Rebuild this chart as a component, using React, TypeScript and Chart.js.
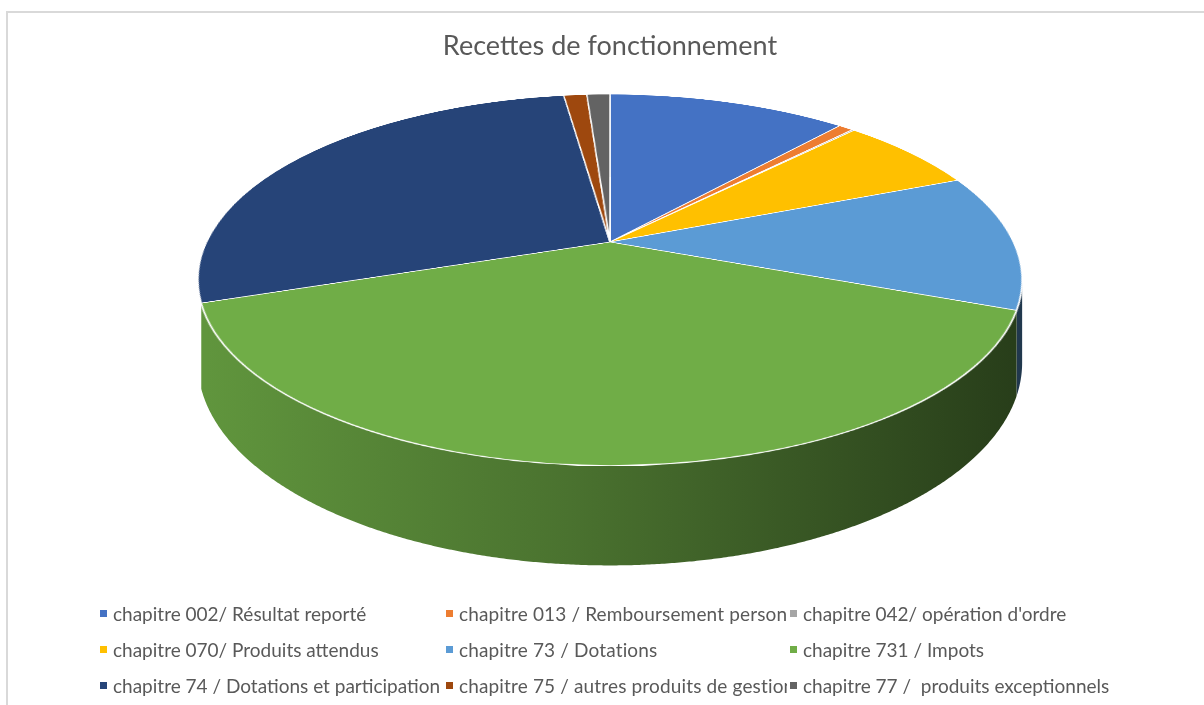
import React, { useEffect, useRef } from 'react';
import { Chart, registerables } from 'chart.js';

Chart.register(...registerables);

const TITLE = 'Recettes de fonctionnement';

const CATEGORIES = [
  'chapitre 002/ Résultat reporté',
  'chapitre 013 / Remboursement personnel',
  "chapitre 042/ opération d'ordre",
  'chapitre 070/ Produits attendus',
  'chapitre 73 / Dotations',
  'chapitre 731 / Impots',
  'chapitre 74 / Dotations et participations',
  'chapitre 75 / autres produits de gestion courante',
  'chapitre 77 /  produits exceptionnels',
];

const VALUES = [11.4, 0.7, 0.1, 6.7, 11.9, 39.0, 28.0, 1.1, 1.1];

const COLORS = [
  '#4472C4',
  '#ED7D31',
  '#A5A5A5',
  '#FFC000',
  '#5B9BD5',
  '#70AD47',
  '#264478',
  '#9E480E',
  '#636363',
];

// 3D projection parameters (multiples of the Chart.js arc outer radius)
const RX = 2.695;
const RY = 1.188;
const PERSP = -0.2043;
const DEPTH = 0.531;
const R_OFF = 420;
const SIDE_RIGHT = 0.2058; // first visible wall angle (rad, canvas convention)
const SIDE_LEFT = Math.PI - 0.33; // last visible wall angle

function shade(hex: string, f: number) {
  const n = parseInt(hex.slice(1), 16);
  const r = Math.round(((n >> 16) & 255) * f);
  const g = Math.round(((n >> 8) & 255) * f);
  const b = Math.round((n & 255) * f);
  return `rgb(${r},${g},${b})`;
}

const pie3d = {
  id: 'pie3d',
  beforeDatasetDraw(chart: any, args: any) {
    const arcs = args.meta.data as any[];
    if (!arcs.length) return;
    const { x: ax, y: ay, outerRadius: R } = arcs[0].getProps(['x', 'y', 'outerRadius'], true);
    const ctx: CanvasRenderingContext2D = chart.ctx;
    const K = RX * R;
    const B = RY * R;
    const D = DEPTH * R;
    const P = PERSP;
    const proj = (ang: number) => {
      const u = Math.cos(ang);
      const v = Math.sin(ang);
      const w = 1 + P * v;
      return { x: ax + (K * u) / w, y: ay + (B * v) / w, d: D / w };
    };

    // side walls
    ctx.save();
    arcs.forEach((arc: any, i: number) => {
      const { startAngle, endAngle } = arc.getProps(['startAngle', 'endAngle'], true);
      const a = Math.max(startAngle, SIDE_RIGHT);
      const b = Math.min(endAngle, SIDE_LEFT);
      if (b <= a) return;
      const n = Math.max(2, Math.ceil((b - a) / 0.005));
      const pts = [];
      for (let k = 0; k <= n; k++) pts.push(proj(a + ((b - a) * k) / n));
      ctx.beginPath();
      pts.forEach((p, k) => (k === 0 ? ctx.moveTo(p.x, p.y) : ctx.lineTo(p.x, p.y)));
      for (let k = n; k >= 0; k--) ctx.lineTo(pts[k].x, pts[k].y + pts[k].d);
      ctx.closePath();
      const col = COLORS[i % COLORS.length];
      const g = ctx.createLinearGradient(ax - K, 0, ax + K, 0);
      g.addColorStop(0, shade(col, 0.86));
      g.addColorStop(0.45, shade(col, 0.66));
      g.addColorStop(1, shade(col, 0.36));
      ctx.fillStyle = g;
      ctx.fill();
    });
    ctx.restore();

    // top face: let Chart.js draw the arcs on an offscreen canvas, then warp it in perspective
    const S = R_OFF * 2;
    const off = document.createElement('canvas');
    off.width = S;
    off.height = S;
    const octx = off.getContext('2d')!;
    const sc = R_OFF / R;
    octx.translate(S / 2, S / 2);
    octx.scale(sc, sc);
    octx.translate(-ax, -ay);
    arcs.forEach((arc: any) => arc.draw(octx));

    const yTop = ay - B / (1 - P);
    const yBot = ay + B / (1 + P);
    const vOf = (y: number) => (y - ay) / (B - P * (y - ay));
    ctx.save();
    ctx.imageSmoothingEnabled = true;
    for (let y = Math.floor(yTop); y < Math.ceil(yBot); y++) {
      const v0 = Math.max(-1, vOf(y));
      const v1 = Math.min(1, vOf(y + 1));
      if (v1 <= v0) continue;
      const vm = (v0 + v1) / 2;
      const hw = K / (1 + P * vm);
      const sy0 = S / 2 + v0 * R_OFF;
      const sh = Math.max(0.5, (v1 - v0) * R_OFF);
      ctx.drawImage(off, 0, sy0, S, sh, ax - hw, y, 2 * hw, 1);
    }
    ctx.restore();
    return false;
  },
};

export default function App() {
  const ref = useRef<HTMLCanvasElement>(null);
  useEffect(() => {
    const chart = new Chart(ref.current!, {
      type: 'pie',
      data: {
        labels: CATEGORIES,
        datasets: [
          {
            data: VALUES,
            backgroundColor: COLORS,
            borderColor: '#ffffff',
            borderWidth: 0.6,
          },
        ],
      },
      options: {
        responsive: false,
        animation: false,
        events: [],
        layout: { padding: { left: 8, top: 0, right: 0, bottom: 313 } },
        plugins: {
          legend: { display: false },
          tooltip: { enabled: false },
          title: {
            display: true,
            text: TITLE,
            color: '#595959',
            font: { family: 'Lato', size: 27, weight: 'normal' },
            padding: { top: 17, bottom: 29.6 },
          },
        },
      },
      plugins: [pie3d as any],
    });
    return () => chart.destroy();
  }, []);

  return (
    <div
      style={{
        position: 'absolute',
        left: 6,
        top: 11,
        width: 1210,
        height: 700,
        borderLeft: '2px solid #d9d9d9',
        borderTop: '2px solid #d9d9d9',
        background: '#ffffff',
      }}
    >
      <canvas ref={ref} width={1196} height={692} style={{ display: 'block' }} />
      <div
        style={{
          position: 'absolute',
          left: 92,
          top: 582,
          display: 'grid',
          gridTemplateColumns: '346px 344px 420px',
          gridAutoRows: '36px',
        }}
      >
        {CATEGORIES.map((c, i) => (
          <div
            key={i}
            style={{
              display: 'flex',
              alignItems: 'center',
              overflow: 'hidden',
              whiteSpace: 'pre',
              width: i % 3 === 2 ? 400 : 341,
              font: '19px Lato',
              letterSpacing: i % 3 === 1 ? '0.15px' : '0px',
              color: '#595959',
            }}
          >
            <span
              style={{ width: 7, height: 7, background: COLORS[i], marginRight: 6, flex: 'none' }}
            />
            <span>{c}</span>
          </div>
        ))}
      </div>
    </div>
  );
}
